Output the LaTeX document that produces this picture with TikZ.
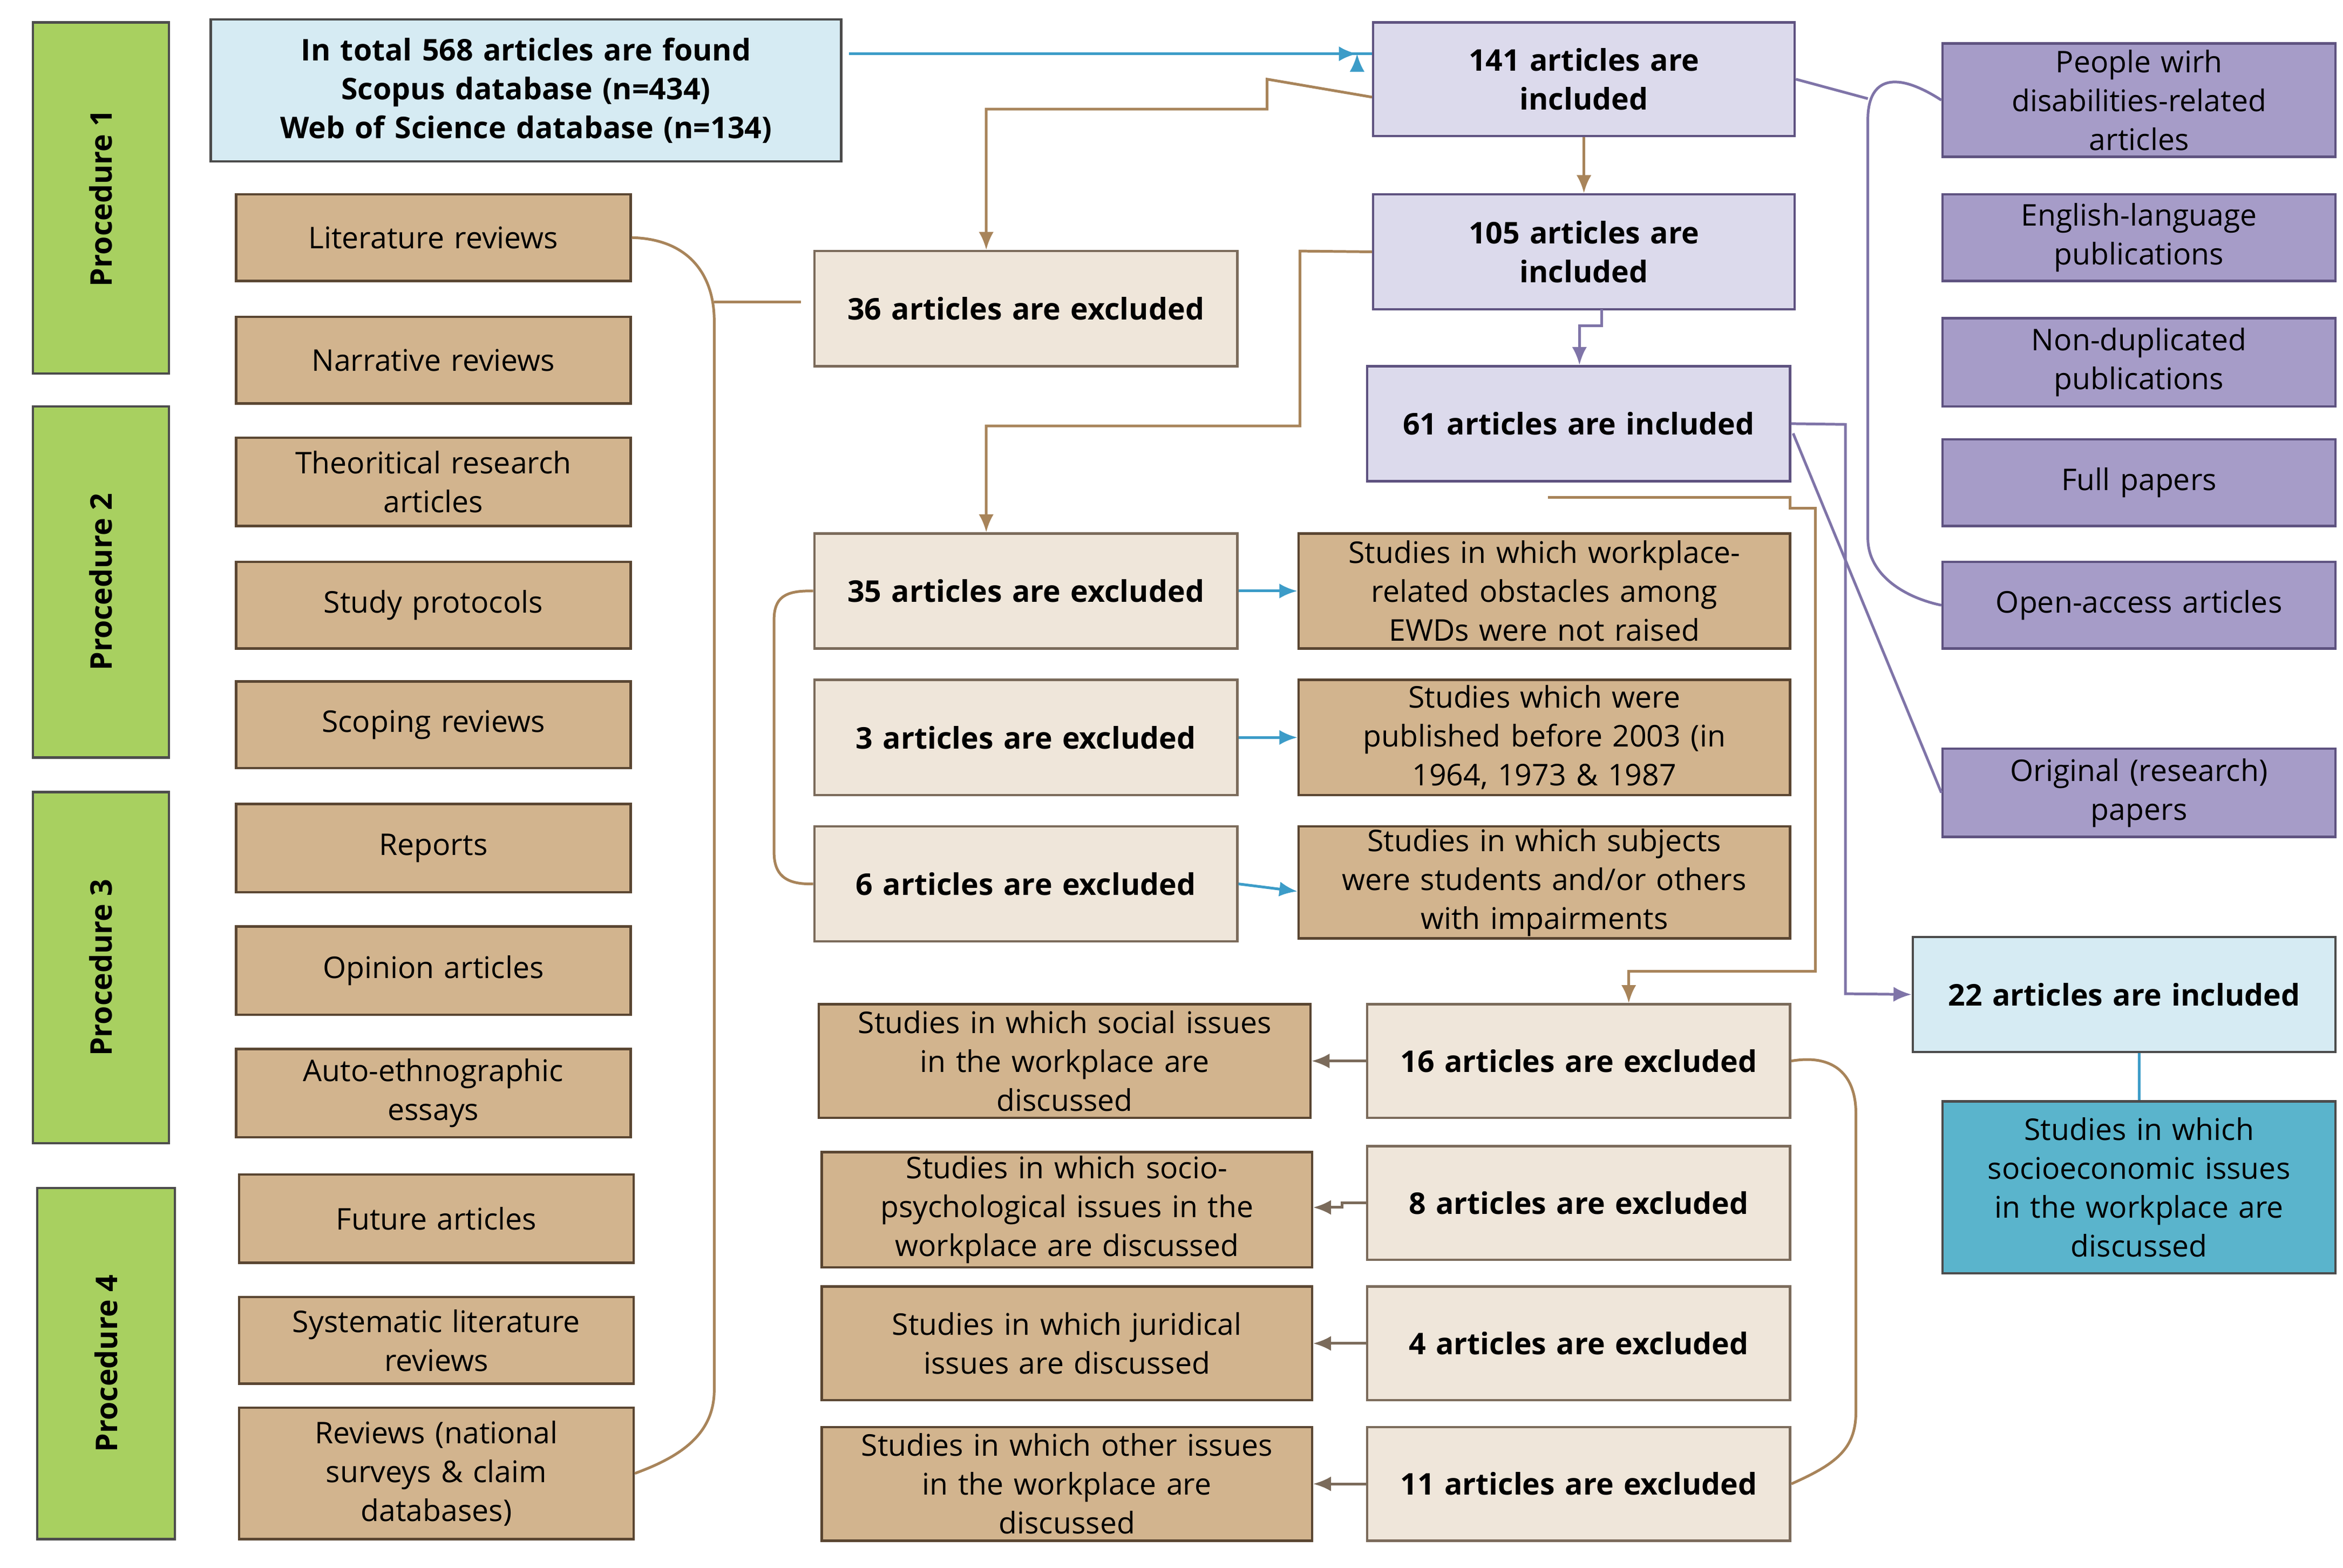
\documentclass[tikz,border=0pt]{standalone}
\usepackage{fontspec}
\setmainfont{Open Sans}
\usetikzlibrary{arrows.meta}
\definecolor{tanf}{HTML}{D2B48E}
\definecolor{tanb}{HTML}{5A4632}
\definecolor{beig}{HTML}{EFE6DA}
\definecolor{lav}{HTML}{DCDAEC}
\definecolor{purf}{HTML}{A69CC8}
\definecolor{purb}{HTML}{5E5280}
\definecolor{grn}{HTML}{A8D060}
\definecolor{lblu}{HTML}{D6EBF3}
\definecolor{teal}{HTML}{5AB4CC}
\definecolor{brn}{HTML}{A8845A}
\definecolor{pline}{HTML}{7F74A8}
\definecolor{bline}{HTML}{3C9CC8}
\newcommand\bx[7]{\pgfmathsetmacro\tw{(#4-#2)*0.5-6}\pgfmathsetmacro\mw{(#4-#2)*0.5}\pgfmathsetmacro\mh{(#5-#3)*0.5}%
\node[box,#6,minimum width=\mw pt,minimum height=\mh pt,text width=\tw pt] (#1) at ({(#2+#4)/2},{(#3+#5)/2}) {#7};}
\newcommand\proc[6]{\fill[grn,draw=black!70,line width=0.8pt] (#2,#3) rectangle (#4,#5);
\node[rotate=90,font=\fontsize{10}{12}\selectfont\bfseries] (#1) at ({(#2+#4)/2},{(#3+#5)/2}) {#6};}
\begin{document}
\begin{tikzpicture}[x=0.5pt,y=-0.5pt,
 box/.style={draw,line width=0.8pt,align=center,inner sep=0pt,font=\fontsize{10}{13}\selectfont},
 tan/.style={fill=tanf,draw=tanb},
 bei/.style={fill=beig,draw=tanb!80,font=\fontsize{10}{13}\selectfont\bfseries},
 lv/.style={fill=lav,draw=purb,font=\fontsize{10}{13}\selectfont\bfseries},
 pu/.style={fill=purf,draw=purb},
 bl/.style={fill=lblu,draw=black!70,font=\fontsize{10}{13}\selectfont\bfseries},
 te/.style={fill=teal,draw=black!70},
 bra/.style={brn,line width=0.9pt},
 barr/.style={brn,line width=0.9pt,-{Latex[length=6pt,width=5pt]}},
 parr/.style={pline,line width=0.9pt,-{Latex[length=6pt,width=5pt]}},
 blarr/.style={bline,line width=0.9pt,-{Latex[length=6pt,width=5pt]}},
 tarr/.style={tanb!80,line width=0.9pt,-{Latex[length=6pt,width=5pt]}}]
\useasboundingbox (0,0) rectangle (1568,1049);
\proc{p1}{22}{15}{113}{250}{Procedure 1}
\proc{p2}{22}{272}{113}{507}{Procedure 2}
\proc{p3}{22}{530}{113}{765}{Procedure 3}
\proc{p4}{25}{795}{117}{1030}{Procedure 4}
\bx{top}{141}{13}{563}{108}{bl}{In total 568 articles are found\\Scopus database (n=434)\\Web of Science database (n=134)}
\bx{l1}{158}{130}{422}{188}{tan}{Literature reviews}
\bx{l2}{158}{212}{422}{270}{tan}{Narrative reviews}
\bx{l3}{158}{293}{422}{352}{tan}{Theoritical research\\articles}
\bx{l4}{158}{376}{422}{434}{tan}{Study protocols}
\bx{l5}{158}{456}{422}{514}{tan}{Scoping reviews}
\bx{l6}{158}{538}{422}{597}{tan}{Reports}
\bx{l7}{158}{620}{422}{679}{tan}{Opinion articles}
\bx{l8}{158}{702}{422}{761}{tan}{Auto-ethnographic\\essays}
\bx{l9}{160}{786}{424}{845}{tan}{Future articles}
\bx{l10}{160}{868}{424}{926}{tan}{Systematic literature\\reviews}
\bx{l11}{160}{942}{424}{1030}{tan}{Reviews (national\\surveys \& claim\\databases)}
\bx{e36}{545}{168}{828}{245}{bei}{36 articles are excluded}
\bx{e35}{545}{357}{828}{434}{bei}{35 articles are excluded}
\bx{e3}{545}{455}{828}{532}{bei}{3 articles are excluded}
\bx{e6}{545}{553}{828}{630}{bei}{6 articles are excluded}
\bx{t35}{869}{357}{1198}{434}{tan}{Studies in which workplace-\\related obstacles among\\EWDs were not raised}
\bx{t3}{869}{455}{1198}{532}{tan}{Studies which were\\published before 2003 (in\\1964, 1973 \& 1987}
\bx{t6}{869}{553}{1198}{628}{tan}{Studies in which subjects\\were students and/or others\\with impairments}
\bx{i141}{919}{15}{1201}{91}{lv}{141 articles are\\included}
\bx{i105}{919}{130}{1201}{207}{lv}{105 articles are\\included}
\bx{i61}{915}{245}{1198}{322}{lv}{61 articles are included}
\bx{r1}{1300}{29}{1563}{105}{pu}{People wirh\\disabilities-related\\articles}
\bx{r2}{1300}{130}{1563}{188}{pu}{English-language\\publications}
\bx{r3}{1300}{213}{1563}{272}{pu}{Non-duplicated\\publications}
\bx{r4}{1300}{294}{1563}{352}{pu}{Full papers}
\bx{r5}{1300}{376}{1563}{434}{pu}{Open-access articles}
\bx{r6}{1300}{501}{1563}{560}{pu}{Original (research)\\papers}
\bx{i22}{1280}{627}{1563}{704}{bl}{22 articles are included}
\bx{soc}{1300}{737}{1563}{852}{te}{Studies in which\\socioeconomic issues\\in the workplace are\\discussed}
\bx{e16}{915}{672}{1198}{748}{bei}{16 articles are excluded}
\bx{e8}{915}{767}{1198}{843}{bei}{8 articles are excluded}
\bx{e4}{915}{861}{1198}{937}{bei}{4 articles are excluded}
\bx{e11}{915}{955}{1198}{1031}{bei}{11 articles are excluded}
\bx{b16}{548}{672}{877}{748}{tan}{Studies in which social issues\\in the workplace are\\discussed}
\bx{b8}{550}{771}{878}{848}{tan}{Studies in which socio-\\psychological issues in the\\workplace are discussed}
\bx{b4}{550}{861}{878}{937}{tan}{Studies in which juridical\\issues are discussed}
\bx{b11}{550}{955}{878}{1031}{tan}{Studies in which other issues\\in the workplace are\\discussed}
% connectors
\coordinate (c1) at (568,36);
\draw[blarr] (c1) -- (i141.west |- c1) ++(-10,0);
\draw[blarr] (c1) -- (908,36);
\draw[barr] ([yshift=-6]i141.west) -- (848,53) -- (848,73) -- (660,73) -- (e36.north -| 660,0);
\draw[barr] (i141.south) -- (i105.north);
\draw[parr] (1072,207) -- (1072,218) -- (1057,218) -- (i61.north -| 1057,0);
\draw[barr] ([yshift=0]i105.west) -- (870,168) -- (870,285) -- (660,285) -- (e35.north -| 660,0);
\draw[blarr] (e35.east) -- (t35.west);
\draw[blarr] (e3.east) -- (t3.west);
\draw[blarr] (e6.east) -- ([yshift=-3]t6.west);
\draw[bra] (l1.east) .. controls (462,160) and (478,185) .. (478,215) -- (478,930) .. controls (478,960) and (455,975) .. (l11.east);
\draw[bra] (478,202) -- (536,202);
\draw[bra] (e35.west) .. controls (525,395) and (518,400) .. (518,415) -- (518,570) .. controls (518,585) and (525,592) .. (e6.west);
\draw[barr] (1036,333) -- (1198,333) -- (1198,340) -- (1215,340) -- (1215,650) -- (1090,650) -- (e16.north -| 1090,0);
\draw[parr] (i61.east) -- (1235,284) -- (1235,665) -- (i22.west);
\draw[pline,line width=0.9pt] (1200,290) -- (r6.west);
\draw[pline,line width=0.9pt] (i141.east) -- (1250,66);
\draw[pline,line width=0.9pt] (r1.west) .. controls (1265,45) and (1250,55) .. (1250,80) -- (1250,360) .. controls (1250,385) and (1275,400) .. (r5.west);
\draw[bline,line width=0.9pt] (i22.south -| soc.north) -- (soc.north);
\draw[tarr] (e16.west) -- (b16.east);
\draw[tarr] (e8.west) -- (898,805) -- (898,808) -- (b8.east |- 0,808);
\draw[tarr] (e4.west) -- (b4.east);
\draw[tarr] (e11.west) -- (b11.east);
\draw[bra] (e16.east) .. controls (1228,705) and (1242,720) .. (1242,745) -- (1242,945) .. controls (1242,970) and (1228,980) .. (e11.east);
\end{tikzpicture}
\end{document}
